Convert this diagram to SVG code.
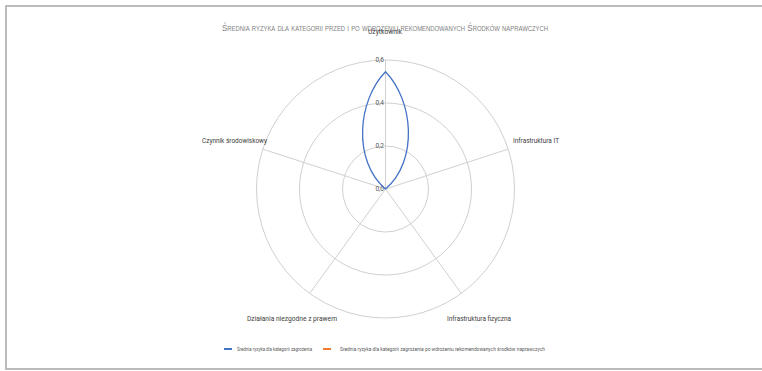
<svg xmlns="http://www.w3.org/2000/svg" width="762" height="371" viewBox="0 0 762 371">
<style>
.grid{fill:none;stroke:#d0d0d0;stroke-width:1}
.title{font-family:"Liberation Sans",Arial,sans-serif;font-size:9.5px;fill:#808080;font-variant:small-caps}
.cat{font-family:Roboto,"Liberation Sans",sans-serif;font-size:7px;fill:#404040}
.tick{font-family:Roboto,"Liberation Sans",sans-serif;font-size:6.5px;fill:#595959;text-anchor:end}
.leg{font-family:Roboto,"Liberation Sans",sans-serif;font-size:5px;fill:#595959}
</style>
<rect x="0" y="0" width="762" height="371" fill="#ffffff"/>
<rect x="6" y="6" width="770" height="363" fill="none" stroke="#a6a6a6" stroke-width="1.5"/>
<text class="title" x="385" y="31" text-anchor="middle" textLength="326" lengthAdjust="spacingAndGlyphs">Średnia ryzyka dla kategorii przed i po wdrożeniu rekomendowanych Środków naprawczych</text>
<g id="grid">
<circle class="grid" cx="385.5" cy="189" r="43"/>
<circle class="grid" cx="385.5" cy="189" r="86"/>
<circle class="grid" cx="385.5" cy="189" r="129"/>
</g>
<g id="connectors">
<line class="grid" x1="385.5" y1="189" x2="385.5" y2="60"/>
<line class="grid" x1="385.5" y1="189" x2="508.2" y2="149.1"/>
<line class="grid" x1="385.5" y1="189" x2="461.3" y2="293.4"/>
<line class="grid" x1="385.5" y1="189" x2="309.7" y2="293.4"/>
<line class="grid" x1="385.5" y1="189" x2="262.8" y2="149.1"/>
</g>
<g id="ticks">
<text class="tick" x="384" y="191">0,0</text>
<text class="tick" x="384" y="148">0,2</text>
<text class="tick" x="384" y="105">0,4</text>
<text class="tick" x="384" y="62">0,6</text>
</g>
<g id="series">
<path d="M385.5,189 C352,160 358,100 385.5,71.7 C413,100 419,160 385.5,189 Z" fill="none" stroke="#4472c4" stroke-width="1.3"/>
</g>
<g id="node-uzytkownik"><text class="cat" x="385" y="34" text-anchor="middle" textLength="34" lengthAdjust="spacingAndGlyphs">Użytkownik</text></g>
<g id="node-infra-it"><text class="cat" x="513" y="143" textLength="46" lengthAdjust="spacingAndGlyphs">Infrastruktura IT</text></g>
<g id="node-infra-fiz"><text class="cat" x="447" y="320.5" textLength="64" lengthAdjust="spacingAndGlyphs">Infrastruktura fizyczna</text></g>
<g id="node-dzialania"><text class="cat" x="247" y="320.5" textLength="90" lengthAdjust="spacingAndGlyphs">Działania niezgodne z prawem</text></g>
<g id="node-czynnik"><text class="cat" x="202" y="143" textLength="65" lengthAdjust="spacingAndGlyphs">Czynnik środowiskowy</text></g>
<g id="legend">
<line x1="224" y1="349" x2="232" y2="349" stroke="#4472c4" stroke-width="2"/>
<text class="leg" x="237" y="350.8" textLength="75" lengthAdjust="spacingAndGlyphs">Średnia ryzyka dla kategorii zagrożenia</text>
<line x1="323" y1="349" x2="331" y2="349" stroke="#ed7d31" stroke-width="2"/>
<text class="leg" x="340" y="350.8" textLength="205" lengthAdjust="spacingAndGlyphs">Średnia ryzyka dla kategorii zagrożenia po wdrożeniu rekomendowanych środków naprawczych</text>
</g>
</svg>
